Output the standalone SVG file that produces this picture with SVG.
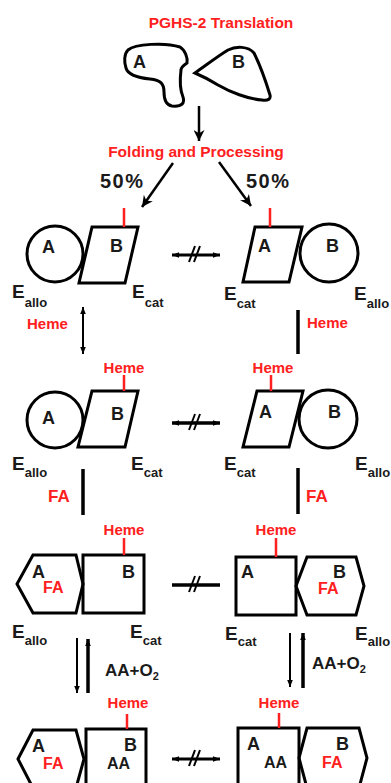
<svg xmlns="http://www.w3.org/2000/svg" width="391" height="783" viewBox="0 0 391 783">
<defs>
<style>
.sh{fill:none;stroke:#000;stroke-width:3;stroke-linejoin:miter}
.t{font-family:"Liberation Sans",Arial,sans-serif;font-weight:bold;fill:#1a1a1a}
.r{fill:#ff2020}
.tick{stroke:#ff2020;stroke-width:2.5}
.ln{stroke:#000;fill:none}
</style>
<marker id="ah" viewBox="0 0 10 10" refX="10" refY="5" markerWidth="11" markerHeight="11" markerUnits="userSpaceOnUse" orient="auto-start-reverse"><path d="M0,0 L10,5 L0,10 L3,5 Z" fill="#000"/></marker>
<marker id="sm" viewBox="0 0 10 10" refX="10" refY="5" markerWidth="7" markerHeight="7" markerUnits="userSpaceOnUse" orient="auto-start-reverse"><path d="M0,1 L10,5 L0,9 Z" fill="#000"/></marker>
</defs>
<rect width="391" height="783" fill="#fff"/>

<g id="title"><text class="t r" x="221" y="28" font-size="15.5" text-anchor="middle">PGHS-2 Translation</text></g>

<g id="unfolded">
<path class="sh" d="M128,50 C135,44 165,42 180,47 C185,50 188,58 187,63 C184,65 181,67 181,70 C180,78 180,90 183,97 C185,103 182,107 172,106 C166,105 164,100 164,92 C164,84 161,80 150,79 C140,78 128,75 126,68 C124,62 124,54 128,50 Z"/>
<path class="sh" d="M195,73 C205,66 218,56 228,50 C236,46 248,46 254,53 C260,65 266,82 270,95 C271,99 268,101 262,100 C248,99 230,92 218,85 C210,80 202,76 195,73 Z"/>
<text class="t" x="133" y="68" font-size="18">A</text>
<text class="t" x="232" y="68" font-size="18">B</text>
</g>

<g id="connectors">
<line class="ln" x1="199" y1="106" x2="199" y2="141" stroke-width="2.5" marker-end="url(#ah)"/>
<text class="t r" x="196" y="157" font-size="15.5" text-anchor="middle">Folding and Processing</text>
<line class="ln" x1="173" y1="163" x2="142" y2="207" stroke-width="2.5" marker-end="url(#ah)"/>
<line class="ln" x1="219" y1="162" x2="251" y2="206" stroke-width="2.5" marker-end="url(#ah)"/>
<text class="t" x="100" y="188" font-size="20" textLength="43">50%</text>
<text class="t" x="246" y="188" font-size="20" textLength="43">50%</text>

<!-- horizontal blocked connectors -->
<g>
<line class="ln" x1="172" y1="255" x2="220" y2="255" stroke-width="3" marker-start="url(#sm)" marker-end="url(#sm)"/>
<line class="ln" x1="189" y1="262" x2="195" y2="246" stroke-width="2"/>
<line class="ln" x1="194" y1="262" x2="200" y2="246" stroke-width="2"/>
</g>
<g>
<line class="ln" x1="172" y1="423" x2="220" y2="423" stroke-width="3.5" marker-start="url(#sm)" marker-end="url(#sm)"/>
<line class="ln" x1="189" y1="430" x2="195" y2="414" stroke-width="2"/>
<line class="ln" x1="194" y1="430" x2="200" y2="414" stroke-width="2"/>
</g>
<g>
<line class="ln" x1="172" y1="585" x2="220" y2="585" stroke-width="3.5"/>
<line class="ln" x1="189" y1="592" x2="195" y2="576" stroke-width="2"/>
<line class="ln" x1="194" y1="592" x2="200" y2="576" stroke-width="2"/>
</g>
<g>
<line class="ln" x1="172" y1="759" x2="220" y2="759" stroke-width="3" marker-start="url(#sm)" marker-end="url(#sm)"/>
<line class="ln" x1="189" y1="766" x2="195" y2="750" stroke-width="2"/>
<line class="ln" x1="194" y1="766" x2="200" y2="750" stroke-width="2"/>
</g>

<!-- heme steps -->
<line class="ln" x1="83" y1="307" x2="83" y2="354" stroke-width="2" marker-start="url(#sm)" marker-end="url(#sm)"/>
<text class="t r" x="27" y="329" font-size="15">Heme</text>
<line class="ln" x1="298" y1="310" x2="298" y2="354" stroke-width="3.5"/>
<text class="t r" x="307" y="328" font-size="15">Heme</text>

<!-- FA steps -->
<line class="ln" x1="83" y1="469" x2="83" y2="515" stroke-width="3.5"/>
<text class="t r" x="48" y="502" font-size="17">FA</text>
<line class="ln" x1="298" y1="468" x2="298" y2="514" stroke-width="3.5"/>
<text class="t r" x="306" y="502" font-size="17">FA</text>

<!-- AA+O2 equilibria -->
<line class="ln" x1="77" y1="638" x2="77" y2="693" stroke-width="2" marker-end="url(#sm)"/>
<line class="ln" x1="88" y1="693" x2="88" y2="639" stroke-width="3.5" marker-end="url(#sm)"/>
<text class="t" x="105" y="676" font-size="17">AA+O<tspan font-size="11" dy="4">2</tspan></text>
<line class="ln" x1="290" y1="633" x2="290" y2="687" stroke-width="2" marker-end="url(#sm)"/>
<line class="ln" x1="303" y1="688" x2="303" y2="633" stroke-width="3.5" marker-end="url(#sm)"/>
<text class="t" x="312" y="669" font-size="17">AA+O<tspan font-size="11" dy="4">2</tspan></text>
</g>

<!-- Row 1 -->
<g id="r1-left">
<circle class="sh" cx="55" cy="254" r="28"/>
<path class="sh" d="M92,227 L138,227 L125,283 L79,283 Z"/>
<line class="tick" x1="124" y1="208" x2="124" y2="227"/>
<text class="t" x="42" y="253" font-size="18">A</text>
<text class="t" x="110" y="252" font-size="18">B</text>
<text class="t" x="12" y="298" font-size="19">E<tspan font-size="13" dy="9">allo</tspan></text>
<text class="t" x="132" y="298" font-size="19">E<tspan font-size="13" dy="9">cat</tspan></text>
</g>
<g id="r1-right">
<path class="sh" d="M255,227 L302,227 L289,282 L243,282 Z"/>
<circle class="sh" cx="329" cy="253" r="29"/>
<line class="tick" x1="270" y1="208" x2="270" y2="227"/>
<text class="t" x="258" y="252" font-size="18">A</text>
<text class="t" x="326" y="252" font-size="18">B</text>
<text class="t" x="224" y="300" font-size="19">E<tspan font-size="13" dy="8">cat</tspan></text>
<text class="t" x="354" y="300" font-size="19">E<tspan font-size="13" dy="8">allo</tspan></text>
</g>

<!-- Row 2 -->
<g id="r2-left">
<circle class="sh" cx="55" cy="420" r="28"/>
<path class="sh" d="M92,391 L138,391 L125,447 L78,447 Z"/>
<line class="tick" x1="124" y1="375" x2="124" y2="391"/>
<text class="t r" x="124" y="373" font-size="15" text-anchor="middle">Heme</text>
<text class="t" x="42" y="424" font-size="18">A</text>
<text class="t" x="111" y="420" font-size="18">B</text>
<text class="t" x="12" y="470" font-size="19">E<tspan font-size="13" dy="7">allo</tspan></text>
<text class="t" x="131" y="470" font-size="19">E<tspan font-size="13" dy="7">cat</tspan></text>
</g>
<g id="r2-right">
<path class="sh" d="M257,391 L303,391 L289,447 L243,447 Z"/>
<circle class="sh" cx="328" cy="419" r="29"/>
<line class="tick" x1="271" y1="375" x2="271" y2="391"/>
<text class="t r" x="273" y="373" font-size="15" text-anchor="middle">Heme</text>
<text class="t" x="259" y="418" font-size="18">A</text>
<text class="t" x="328" y="418" font-size="18">B</text>
<text class="t" x="224" y="470" font-size="19">E<tspan font-size="13" dy="7">cat</tspan></text>
<text class="t" x="355" y="470" font-size="19">E<tspan font-size="13" dy="7">allo</tspan></text>
</g>

<!-- Row 3 -->
<g id="r3-left">
<path class="sh" d="M17,584 L33,555 L76,555 L83,584 L76,613 L33,613 Z"/>
<rect class="sh" x="83" y="555" width="61" height="58"/>
<line class="tick" x1="124" y1="538" x2="124" y2="555"/>
<text class="t r" x="124" y="535" font-size="15" text-anchor="middle">Heme</text>
<text class="t" x="32" y="578" font-size="18">A</text>
<text class="t r" x="43" y="593" font-size="16">FA</text>
<text class="t" x="122" y="578" font-size="18">B</text>
<text class="t" x="12" y="638" font-size="19">E<tspan font-size="13" dy="7">allo</tspan></text>
<text class="t" x="130" y="638" font-size="19">E<tspan font-size="13" dy="7">cat</tspan></text>
</g>
<g id="r3-right">
<rect class="sh" x="236" y="557" width="60" height="58"/>
<path class="sh" d="M296,586 L307,557 L356,557 L364,586 L356,615 L307,615 Z"/>
<line class="tick" x1="276" y1="538" x2="276" y2="557"/>
<text class="t r" x="276" y="535" font-size="15" text-anchor="middle">Heme</text>
<text class="t" x="241" y="578" font-size="18">A</text>
<text class="t" x="333" y="578" font-size="18">B</text>
<text class="t r" x="318" y="594" font-size="16">FA</text>
<text class="t" x="225" y="640" font-size="19">E<tspan font-size="13" dy="6">cat</tspan></text>
<text class="t" x="355" y="640" font-size="19">E<tspan font-size="13" dy="6">allo</tspan></text>
</g>

<!-- Row 4 -->
<g id="r4-left">
<path class="sh" d="M18,759 L33,730 L76,730 L84,759 L76,788 L33,788 Z"/>
<rect class="sh" x="86" y="729" width="60" height="60"/>
<line class="tick" x1="127" y1="714" x2="127" y2="729"/>
<text class="t r" x="128" y="708" font-size="15" text-anchor="middle">Heme</text>
<text class="t" x="32" y="752" font-size="18">A</text>
<text class="t r" x="43" y="769" font-size="16">FA</text>
<text class="t" x="124" y="751" font-size="18">B</text>
<text class="t" x="107" y="769" font-size="16">AA</text>
</g>
<g id="r4-right">
<rect class="sh" x="238" y="728" width="61" height="60"/>
<path class="sh" d="M299,758 L307,728 L359,728 L367,758 L359,788 L307,788 Z"/>
<line class="tick" x1="279" y1="713" x2="279" y2="728"/>
<text class="t r" x="279" y="708" font-size="15" text-anchor="middle">Heme</text>
<text class="t" x="247" y="750" font-size="18">A</text>
<text class="t" x="264" y="768" font-size="16">AA</text>
<text class="t" x="336" y="750" font-size="18">B</text>
<text class="t r" x="322" y="768" font-size="16">FA</text>
</g>
</svg>
